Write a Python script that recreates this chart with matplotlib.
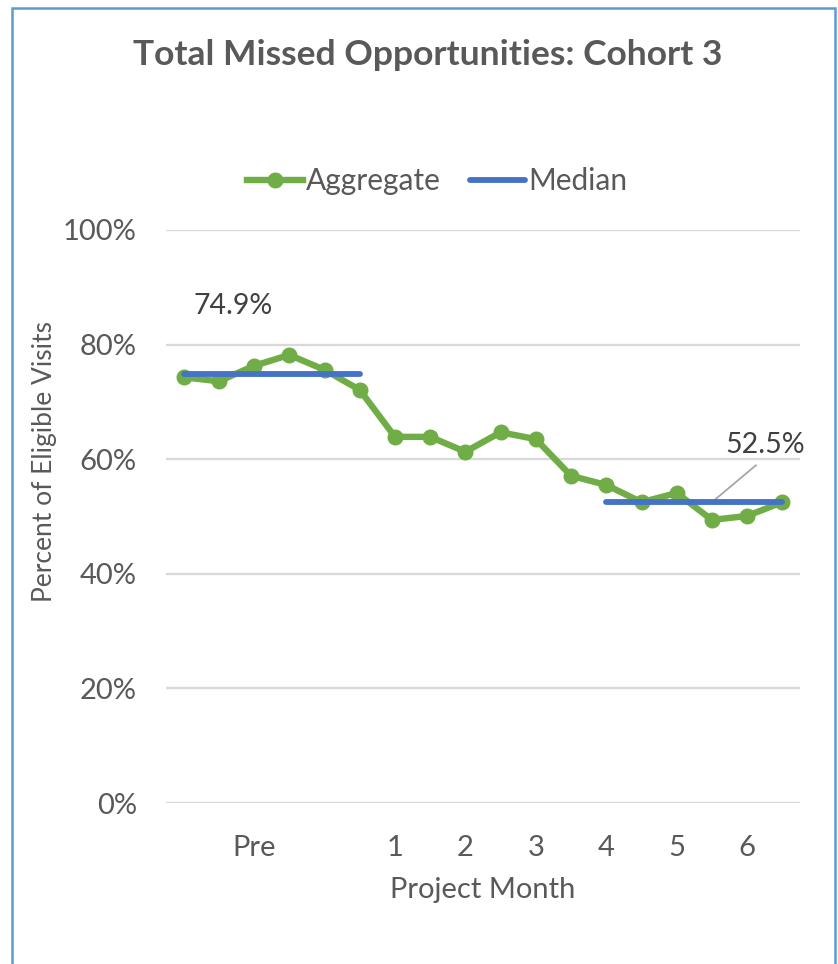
import matplotlib.pyplot as plt
from matplotlib.patches import Rectangle
from matplotlib.ticker import FuncFormatter

plt.rcParams["font.family"] = ["Lato", "DejaVu Sans"]

# biweekly aggregate percentages, 6 pre-period points then months 1-6
aggregate = [74.3, 73.6, 76.3, 78.2, 75.6, 72.1,
             63.9, 63.9, 61.3, 64.7, 63.5, 57.1,
             55.5, 52.5, 54.1, 49.4, 50.1, 52.5]
month_ticks = [2, 6, 8, 10, 12, 14, 16]
month_labels = ["Pre", "1", "2", "3", "4", "5", "6"]

median_pre = 74.9
median_post = 52.5
pre_span = (0, 5)
post_span = (12, 17)

GREEN = "#70AD47"
BLUE = "#4472C4"
GRAY = "#595959"

fig = plt.figure(figsize=(8.38, 9.64), dpi=100)
ax = fig.add_axes([166 / 838, 1 - 803 / 964, 634 / 838, 573 / 964])

x = list(range(len(aggregate)))
ax.plot(x, aggregate, color=GREEN, lw=4.6, marker="o", markersize=10.5,
        label="Aggregate", zorder=3)
ax.plot(pre_span, [median_pre, median_pre], color=BLUE, lw=4.2,
        solid_capstyle="round", label="Median", zorder=4)
ax.plot(post_span, [median_post, median_post], color=BLUE, lw=4.2,
        solid_capstyle="round", zorder=4)

ax.text(pre_span[0] + 1.4, median_pre + 11.8, f"{median_pre:.1f}%",
        ha="center", va="center", fontsize=20.5, color="#404040")
ax.annotate(f"{median_post:.1f}%", xy=(post_span[0] + 3.0, median_post),
            xytext=(post_span[1] - 0.5, median_post + 10),
            ha="center", va="center", fontsize=20.5, color="#404040",
            arrowprops=dict(arrowstyle="-", color="#A6A6A6", lw=1.3,
                            relpos=(0.5, 0), shrinkA=5, shrinkB=0))

ax.set_xlim(-0.5, len(aggregate) - 0.5)
ax.set_ylim(0, 100)
ax.set_yticks(range(0, 101, 20))
ax.yaxis.set_major_formatter(FuncFormatter(lambda v, _: f"{v:.0f}%"))
ax.set_xticks(month_ticks)
ax.set_xticklabels(month_labels)
ax.grid(axis="y", color="#D9D9D9", lw=1.7)
ax.set_axisbelow(True)
for side in ax.spines.values():
    side.set_visible(False)
ax.tick_params(length=0, labelsize=21, labelcolor=GRAY)
ax.tick_params(axis="x", pad=23)
ax.tick_params(axis="y", pad=21)

ax.set_xlabel("Project Month", fontsize=21, color=GRAY, va="center")
ax.xaxis.set_label_coords(0.5, (803 - 890) / 573)
ax.set_ylabel("Percent of Eligible Visits", fontsize=19, color=GRAY, va="center")
ax.yaxis.set_label_coords((44 - 166) / 634, (803 - 462) / 573)

fig.text(0.51, 1 - 55 / 964, "Total Missed Opportunities: Cohort 3",
         ha="center", va="center", fontsize=25.5, fontweight="bold", color=GRAY)
fig.legend(loc="center", bbox_to_anchor=(0.522, 1 - 181 / 964), ncol=2,
           frameon=False, fontsize=21.5, labelcolor=GRAY, handlelength=1.85,
           handletextpad=0.1, columnspacing=1.0)

fig.patches.append(Rectangle((12 / 838, -0.05), 823 / 838, 1 - 8 / 964 + 0.05,
                             transform=fig.transFigure, fill=False,
                             edgecolor="#5B9BD5", lw=1.8))

fig.savefig("out.png", dpi=100)
